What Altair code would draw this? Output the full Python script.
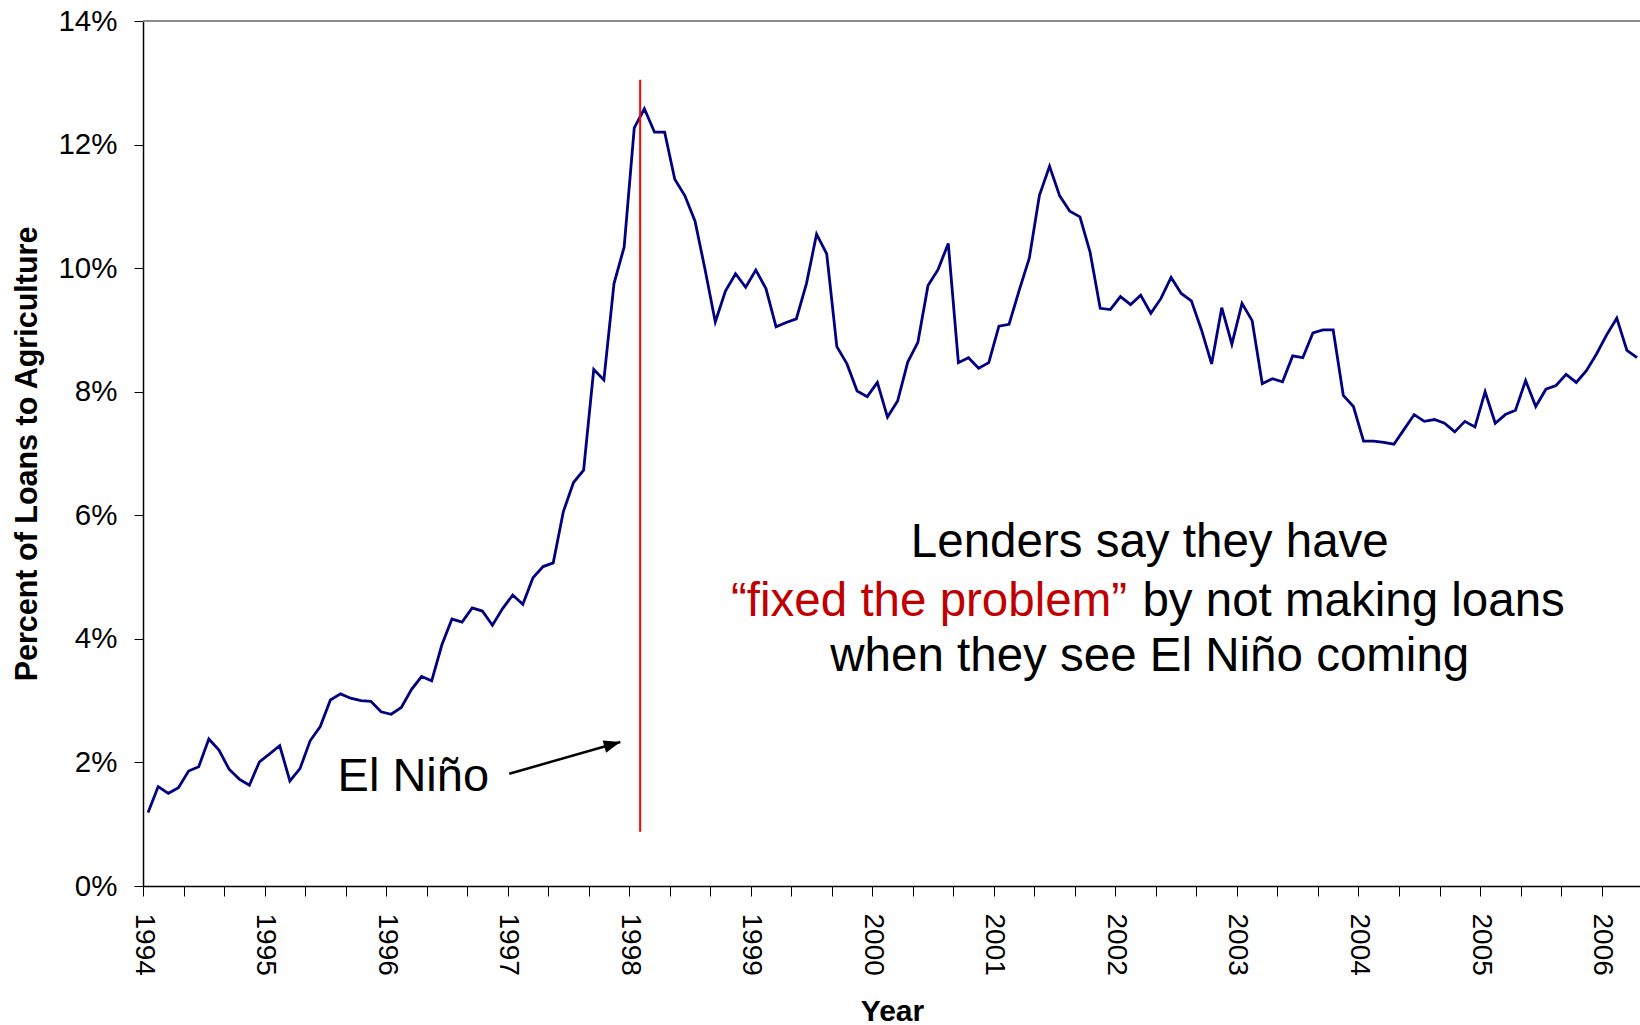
import altair as alt
import pandas as pd

# ---- data (monthly, Jan 1994 .. Apr 2006), percent of loans to agriculture ----
pct_values = [
    1.19, 1.61, 1.50, 1.59, 1.86, 1.93, 2.38, 2.20, 1.89, 1.73, 1.63, 2.01,   # 1994
    2.14, 2.27, 1.70, 1.90, 2.35, 2.58, 3.01, 3.11, 3.04, 3.00, 2.99, 2.82,   # 1995
    2.78, 2.89, 3.18, 3.39, 3.32, 3.90, 4.32, 4.27, 4.50, 4.45, 4.22, 4.49,   # 1996
    4.71, 4.56, 4.99, 5.17, 5.23, 6.06, 6.53, 6.73, 8.36, 8.19, 9.75, 10.34,  # 1997
    12.27, 12.58, 12.20, 12.20, 11.44, 11.17, 10.76, 9.97, 9.13, 9.63, 9.91, 9.69,  # 1998
    9.97, 9.67, 9.05, 9.12, 9.18, 9.75, 10.55, 10.23, 8.73, 8.45, 8.01, 7.92,  # 1999
    8.15, 7.59, 7.85, 8.48, 8.80, 9.72, 9.98, 10.40, 8.47, 8.55, 8.38, 8.47,   # 2000
    9.06, 9.09, 9.64, 10.16, 11.18, 11.65, 11.17, 10.92, 10.83, 10.26, 9.35, 9.33,  # 2001
    9.54, 9.41, 9.56, 9.27, 9.51, 9.85, 9.59, 9.47, 9.00, 8.45, 9.36, 8.77,    # 2002
    9.43, 9.15, 8.13, 8.21, 8.16, 8.58, 8.55, 8.95, 9.00, 9.00, 7.94, 7.76,    # 2003
    7.20, 7.20, 7.18, 7.15, 7.39, 7.63, 7.52, 7.55, 7.49, 7.35, 7.52, 7.43,    # 2004
    8.00, 7.49, 7.63, 7.70, 8.18, 7.76, 8.04, 8.10, 8.28, 8.15, 8.34, 8.61,    # 2005
    8.92, 9.19, 8.67, 8.55,                                                    # 2006
]
start_year = 1994
month_index = list(range(len(pct_values)))
year_pos = [start_year + (m + 0.5) / 12 for m in month_index]

y_tick_values = [0, 2, 4, 6, 8, 10, 12, 14]
x_tick_values = [start_year + k / 3 for k in range(37)]

# annotations (in data coordinates)
el_nino_x = [1998.09]
el_nino_y_low = [0.88]
el_nino_y_high = [13.05]

arrow_x = [1997.013, 1997.927]
arrow_y = [1.817, 2.330]

label_el_nino = ["El Niño"]
label_el_nino_x = [1996.224]
label_el_nino_y = [1.542]

center_lines = ["Lenders say they have", "when they see El Niño coming"]
center_lines_x = [2002.283, 2002.283]
center_lines_y = [5.329, 3.479]

red_text = ["\u201cfixed the problem\u201d"]
red_text_x = [1998.838]
red_text_y = [4.369]

black_text = ["by not making loans"]
black_text_x = [2002.222]
black_text_y = [4.369]

X_DOMAIN = [1994, 2006.316]
Y_DOMAIN = [0, 14]
FONT = "Liberation Sans"

# ---- frames ----
line_df = pd.DataFrame({"year": year_pos, "pct": pct_values})
red_df = pd.DataFrame({"year": el_nino_x, "lo": el_nino_y_low, "hi": el_nino_y_high})
arrow_df = pd.DataFrame({"year": arrow_x, "pct": arrow_y, "order": [0, 1]})
head_df = pd.DataFrame({"year": [arrow_x[-1]], "pct": [arrow_y[-1]]})
top_df = pd.DataFrame({"pct": [14]})
elnino_df = pd.DataFrame({"year": label_el_nino_x, "pct": label_el_nino_y, "t": label_el_nino})
center_df = pd.DataFrame({"year": center_lines_x, "pct": center_lines_y, "t": center_lines})
red_txt_df = pd.DataFrame({"year": red_text_x, "pct": red_text_y, "t": red_text})
black_txt_df = pd.DataFrame({"year": black_text_x, "pct": black_text_y, "t": black_text})

x_scale = alt.Scale(domain=X_DOMAIN, nice=False, zero=False)
y_scale = alt.Scale(domain=Y_DOMAIN, nice=False, zero=True)

x_axis = alt.Axis(
    values=x_tick_values,
    labelExpr="abs(datum.value - round(datum.value)) < 0.01 ? format(round(datum.value), 'd') : ''",
    labelAngle=90,
    labelFont=FONT,
    labelFontSize=28,
    labelColor="black",
    labelPadding=17,
    labelOverlap=False,
    labelFlush=False,
    labelBound=False,
    tickSize=10,
    tickColor="black",
    tickWidth=1,
    domainColor="black",
    domainWidth=1.5,
    grid=False,
    title="Year",
    titleFont=FONT,
    titleFontSize=30,
    titleFontWeight="bold",
    titleColor="black",
    titleX=749,
    titleY=134,
    titleBaseline="alphabetic",
)

y_axis = alt.Axis(
    values=y_tick_values,
    labelExpr="datum.value + '%'",
    labelFont=FONT,
    labelFontSize=29.5,
    labelColor="black",
    labelPadding=17,
    tickSize=9,
    tickColor="black",
    tickWidth=1,
    domainColor="black",
    domainWidth=1.5,
    grid=False,
    title="Percent of Loans to Agriculture",
    titleFont=FONT,
    titleFontSize=30.5,
    titleFontWeight="bold",
    titleColor="black",
    titleAngle=270,
    titleX=-107,
    titleY=432.5,
    titleBaseline="alphabetic",
    titleAlign="center",
)

base_x = alt.X("year:Q", scale=x_scale, axis=x_axis)
base_y = alt.Y("pct:Q", scale=y_scale, axis=y_axis)

top_border = alt.Chart(top_df).mark_rule(color="#8c8c8c", strokeWidth=2).encode(
    y=alt.Y("pct:Q", scale=y_scale, axis=y_axis)
)

line = alt.Chart(line_df).mark_line(color="#000080", strokeWidth=2.8).encode(
    x=base_x, y=base_y
)

red_rule = alt.Chart(red_df).mark_rule(color="#FF0000", strokeWidth=2).encode(
    x=alt.X("year:Q", scale=x_scale, axis=x_axis),
    y=alt.Y("lo:Q", scale=y_scale, axis=y_axis),
    y2="hi:Q",
)

arrow_line = alt.Chart(arrow_df).mark_line(color="black", strokeWidth=2.5).encode(
    x=base_x, y=base_y, order="order:Q"
)

arrow_head = alt.Chart(head_df).mark_point(
    shape="M0,0L-1,-0.38L-1,0.38Z",
    filled=True,
    color="black",
    opacity=1,
    size=1100,
    angle=344,
    strokeWidth=0,
).encode(x=base_x, y=base_y)

elnino_text = alt.Chart(elnino_df).mark_text(
    font=FONT, fontSize=47, color="black", align="center", baseline="alphabetic"
).encode(x=base_x, y=base_y, text="t:N")

center_text = alt.Chart(center_df).mark_text(
    font=FONT, fontSize=47.5, color="black", align="center", baseline="alphabetic"
).encode(x=base_x, y=base_y, text="t:N")

red_part = alt.Chart(red_txt_df).mark_text(
    font=FONT, fontSize=47.5, color="#C00000", align="left", baseline="alphabetic"
).encode(x=base_x, y=base_y, text="t:N")

black_part = alt.Chart(black_txt_df).mark_text(
    font=FONT, fontSize=47.5, color="black", align="left", baseline="alphabetic"
).encode(x=base_x, y=base_y, text="t:N")

chart = (
    alt.layer(
        top_border, line, red_rule, arrow_line, arrow_head,
        elnino_text, center_text, red_part, black_part,
    )
    .properties(
        width=1497,
        height=865,
        padding={"left": 143, "top": 21, "right": 0, "bottom": 139},
        autosize=alt.AutoSizeParams(type="none"),
        background="white",
    )
    .configure_view(stroke=None)
)

chart.save("out.html", embed_options={"renderer": "svg", "actions": False})
